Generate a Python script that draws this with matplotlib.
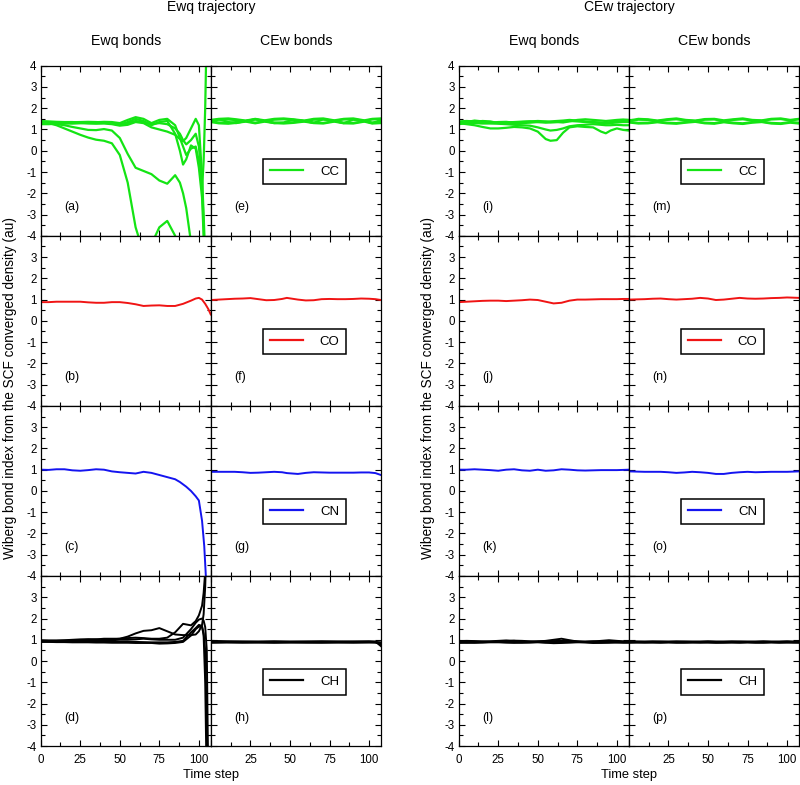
import matplotlib
matplotlib.use("Agg")
import matplotlib.pyplot as plt
from matplotlib.ticker import MultipleLocator

plt.rcParams['font.family'] = ['Liberation Sans', 'DejaVu Sans']

# ---------------- data ----------------
grid_titles = ["Ewq trajectory", "CEw trajectory"]
col_titles = ["Ewq bonds", "CEw bonds"]
bond_names = ["CC", "CO", "CN", "CH"]
panel_letters = [["a", "b", "c", "d"], ["e", "f", "g", "h"],
                 ["i", "j", "k", "l"], ["m", "n", "o", "p"]]
x_ticks = [0, 25, 50, 75, 100]
y_ticks = [-4, -3, -2, -1, 0, 1, 2, 3, 4]

# (a) Ewq trajectory, Ewq bonds, CC
t_a = [0, 5, 10, 15, 20, 25, 30, 35, 40, 45, 50, 55, 60, 65, 70, 75, 80, 85, 88, 90, 92, 95, 98, 100, 102, 103, 104, 105]
a1 = [1.35, 1.30, 1.20, 1.05, 0.90, 0.75, 0.62, 0.52, 0.47, 0.35, -0.20, -1.50, -3.60, -4.80, -4.40, -3.60, -3.30, -4.00, -4.60, -5.00, -5.50, -6.0, -7.0, -8.0, -9.0, -9.0, -9.0, -9.0]
a2 = [1.30, 1.28, 1.25, 1.20, 1.12, 1.05, 0.98, 0.97, 1.02, 0.95, 0.60, -0.15, -0.80, -0.95, -1.10, -1.40, -1.55, -1.15, -1.50, -2.00, -2.70, -4.30, -6.0, -7.0, -8.0, -8.0, -8.0, -8.0]
a3 = [1.25, 1.25, 1.27, 1.28, 1.30, 1.30, 1.28, 1.27, 1.28, 1.25, 1.18, 1.22, 1.35, 1.30, 1.10, 1.00, 0.90, 0.75, 0.55, 0.45, 0.60, 1.05, 1.50, 1.20, -1.20, -3.0, -5.0, -8.0]
a4 = [1.40, 1.38, 1.36, 1.35, 1.35, 1.33, 1.32, 1.34, 1.36, 1.35, 1.30, 1.45, 1.58, 1.50, 1.30, 1.45, 1.50, 1.20, 0.60, 0.20, -0.20, 0.10, 0.20, -0.50, -1.80, -0.50, 2.0, 6.0]
a5 = [1.30, 1.32, 1.33, 1.30, 1.28, 1.30, 1.32, 1.33, 1.32, 1.28, 1.22, 1.35, 1.50, 1.40, 1.20, 1.35, 1.40, 0.80, 0.00, -0.65, -0.40, 0.25, 0.10, -0.80, -2.20, -4.0, -6.0, -8.0]
a6 = [1.35, 1.34, 1.32, 1.33, 1.34, 1.35, 1.36, 1.35, 1.33, 1.30, 1.25, 1.30, 1.40, 1.35, 1.25, 1.30, 1.25, 1.05, 0.80, 0.50, 0.30, 0.50, 0.80, 0.20, -1.50, -3.5, -6.0, -8.0]

# (b) CO
t_b = [0, 5, 10, 15, 20, 25, 30, 35, 40, 45, 50, 55, 60, 65, 70, 75, 80, 85, 90, 95, 98, 100, 102, 104, 106, 107.5]
b1 = [0.88, 0.88, 0.90, 0.90, 0.90, 0.90, 0.87, 0.85, 0.85, 0.88, 0.88, 0.84, 0.78, 0.70, 0.72, 0.73, 0.70, 0.70, 0.80, 0.95, 1.05, 1.08, 1.00, 0.80, 0.55, 0.30]

# (c) CN
t_c = [0, 5, 10, 15, 20, 25, 30, 35, 40, 45, 50, 55, 60, 65, 70, 75, 80, 85, 88, 92, 95, 98, 100, 102, 103.4, 104.4, 105]
c1 = [1.00, 0.99, 1.02, 1.02, 0.97, 0.95, 0.98, 1.02, 1.00, 0.92, 0.88, 0.85, 0.82, 0.90, 0.85, 0.75, 0.65, 0.55, 0.42, 0.20, 0.00, -0.25, -0.45, -1.40, -2.60, -4.00, -5.00]

# (d) CH
t_d = [0, 5, 10, 15, 20, 25, 30, 35, 40, 45, 50, 55, 60, 65, 70, 75, 80, 85, 90, 95, 98, 100, 102, 103, 104, 105, 106]
d1 = [0.95, 0.95, 0.95, 0.96, 0.97, 0.98, 1.00, 1.02, 1.00, 1.02, 1.05, 1.15, 1.30, 1.42, 1.45, 1.55, 1.40, 1.25, 1.22, 1.22, 1.25, 1.40, 1.70, 2.20, 3.50, 6.0, 8.0]
d2 = [0.98, 0.97, 0.97, 0.98, 1.00, 1.02, 1.03, 1.02, 1.05, 1.05, 1.05, 1.08, 1.10, 1.08, 1.05, 1.05, 1.10, 1.35, 1.75, 1.68, 1.88, 2.15, 2.60, 3.20, 4.20, 6.0, 8.0]
d3 = [0.92, 0.92, 0.93, 0.93, 0.94, 0.95, 0.95, 0.96, 0.97, 0.98, 1.00, 1.00, 1.02, 1.05, 1.02, 1.00, 1.00, 1.00, 1.10, 1.50, 1.80, 1.95, 2.00, 1.90, 1.60, 0.50, -6.0]
d4 = [0.90, 0.90, 0.89, 0.89, 0.88, 0.88, 0.88, 0.87, 0.87, 0.86, 0.86, 0.86, 0.85, 0.85, 0.85, 0.82, 0.83, 0.85, 0.90, 1.20, 1.50, 1.62, 1.60, 1.30, 0.50, -3.0, -8.0]
d5 = [0.93, 0.92, 0.91, 0.90, 0.90, 0.90, 0.90, 0.90, 0.90, 0.90, 0.90, 0.90, 0.90, 0.89, 0.88, 0.88, 0.88, 0.90, 0.95, 1.35, 1.55, 1.70, 1.65, 1.20, -1.0, -6.0, -8.0]

# (e) Ewq trajectory, CEw bonds, CC
t_e = [0, 5, 11, 16, 22, 28, 34, 40, 46, 52, 59, 65, 71, 78, 84, 90, 97, 102, 107.5]
e1 = [1.45, 1.50, 1.52, 1.48, 1.42, 1.50, 1.43, 1.50, 1.52, 1.48, 1.42, 1.50, 1.52, 1.43, 1.50, 1.52, 1.43, 1.50, 1.52]
e2 = [1.42, 1.46, 1.47, 1.44, 1.40, 1.47, 1.41, 1.46, 1.48, 1.45, 1.40, 1.46, 1.47, 1.41, 1.47, 1.48, 1.41, 1.47, 1.49]
e3 = [1.38, 1.33, 1.31, 1.35, 1.39, 1.32, 1.39, 1.33, 1.31, 1.34, 1.39, 1.33, 1.31, 1.39, 1.32, 1.31, 1.39, 1.33, 1.35]
e4 = [1.35, 1.29, 1.27, 1.31, 1.37, 1.29, 1.37, 1.30, 1.28, 1.31, 1.37, 1.30, 1.28, 1.37, 1.29, 1.28, 1.37, 1.28, 1.30]
e5 = [1.40, 1.48, 1.35, 1.30, 1.40, 1.48, 1.40, 1.30, 1.33, 1.46, 1.40, 1.31, 1.48, 1.40, 1.30, 1.46, 1.40, 1.30, 1.45]

# (f), (g) Ewq trajectory, CEw bonds
t_fg = [0, 5, 10, 15, 20, 25, 30, 35, 40, 45, 48, 55, 60, 65, 70, 75, 80, 85, 90, 95, 100, 104, 107.5]
f1 = [0.98, 1.00, 1.02, 1.04, 1.05, 1.07, 1.02, 0.97, 0.98, 1.03, 1.08, 1.00, 0.96, 0.97, 1.02, 1.03, 1.02, 1.02, 1.03, 1.05, 1.04, 1.02, 0.98]
g1 = [0.90, 0.90, 0.90, 0.90, 0.88, 0.85, 0.86, 0.88, 0.90, 0.88, 0.84, 0.80, 0.85, 0.88, 0.87, 0.86, 0.86, 0.86, 0.86, 0.87, 0.87, 0.84, 0.75]

# (h) CH
t_h = [0, 10, 20, 30, 40, 50, 60, 70, 80, 90, 100, 104, 107.5]
h1 = [0.92, 0.91, 0.90, 0.90, 0.91, 0.90, 0.90, 0.91, 0.91, 0.90, 0.91, 0.90, 0.88]
h2 = [0.88, 0.89, 0.89, 0.88, 0.88, 0.88, 0.89, 0.88, 0.88, 0.89, 0.89, 0.88, 0.80]
h3 = [0.95, 0.93, 0.92, 0.92, 0.93, 0.92, 0.92, 0.93, 0.92, 0.92, 0.93, 0.92, 0.70]
h4 = [0.86, 0.87, 0.86, 0.87, 0.86, 0.87, 0.86, 0.86, 0.87, 0.86, 0.87, 0.87, 0.85]
h5 = [0.90, 0.90, 0.91, 0.90, 0.89, 0.90, 0.91, 0.90, 0.90, 0.91, 0.90, 0.89, 0.78]

# (i) CEw trajectory, Ewq bonds, CC
t_i = [0, 5, 10, 15, 20, 25, 30, 35, 40, 45, 50, 55, 58, 62, 66, 70, 75, 80, 85, 90, 93, 96, 100, 104, 107.5]
i1 = [1.30, 1.25, 1.20, 1.12, 1.05, 1.05, 1.08, 1.12, 1.10, 1.05, 0.90, 0.55, 0.47, 0.50, 0.85, 1.10, 1.15, 1.12, 1.10, 0.90, 0.82, 0.95, 1.05, 0.98, 0.95]
i2 = [1.35, 1.32, 1.30, 1.28, 1.28, 1.27, 1.25, 1.22, 1.20, 1.18, 1.10, 1.00, 0.95, 0.98, 1.05, 1.15, 1.20, 1.22, 1.25, 1.22, 1.20, 1.20, 1.22, 1.20, 1.20]
i3 = [1.38, 1.40, 1.38, 1.35, 1.33, 1.32, 1.33, 1.35, 1.37, 1.38, 1.35, 1.32, 1.33, 1.35, 1.38, 1.40, 1.38, 1.35, 1.33, 1.30, 1.28, 1.30, 1.33, 1.35, 1.35]
i4 = [1.25, 1.30, 1.35, 1.40, 1.38, 1.30, 1.28, 1.30, 1.35, 1.38, 1.40, 1.38, 1.35, 1.35, 1.33, 1.38, 1.45, 1.48, 1.45, 1.42, 1.40, 1.42, 1.45, 1.47, 1.45]
i5 = [1.33, 1.35, 1.42, 1.38, 1.32, 1.35, 1.36, 1.32, 1.30, 1.32, 1.35, 1.36, 1.38, 1.40, 1.42, 1.45, 1.42, 1.38, 1.35, 1.33, 1.32, 1.35, 1.38, 1.40, 1.43]

# (j), (k), (l), (n), (o), (p)
t_r = [0, 5, 10, 15, 20, 25, 30, 35, 40, 45, 50, 55, 60, 65, 70, 75, 80, 85, 90, 95, 100, 104, 107.5]
j1 = [0.88, 0.90, 0.92, 0.94, 0.95, 0.95, 0.93, 0.95, 0.97, 1.00, 0.98, 0.90, 0.82, 0.85, 0.95, 1.00, 1.00, 1.01, 1.02, 1.02, 1.02, 1.03, 1.03]
k1 = [1.00, 1.00, 1.02, 1.00, 0.98, 0.95, 1.00, 1.02, 0.97, 0.95, 1.00, 0.95, 0.97, 1.02, 1.00, 0.97, 0.96, 0.97, 0.98, 0.98, 0.98, 0.99, 1.00]
l1 = [0.95, 0.93, 0.92, 0.92, 0.93, 0.95, 0.97, 0.95, 0.92, 0.90, 0.92, 0.95, 1.00, 1.05, 0.98, 0.92, 0.90, 0.92, 0.95, 0.98, 0.95, 0.93, 0.92]
l2 = [0.90, 0.90, 0.88, 0.88, 0.90, 0.92, 0.92, 0.90, 0.88, 0.88, 0.90, 0.92, 0.94, 0.95, 0.92, 0.90, 0.88, 0.85, 0.86, 0.88, 0.90, 0.90, 0.90]
l3 = [0.88, 0.86, 0.86, 0.87, 0.88, 0.88, 0.87, 0.86, 0.86, 0.87, 0.88, 0.86, 0.84, 0.85, 0.87, 0.88, 0.88, 0.87, 0.86, 0.86, 0.87, 0.88, 0.88]
l4 = [0.93, 0.95, 0.94, 0.92, 0.90, 0.90, 0.93, 0.96, 0.95, 0.93, 0.90, 0.88, 0.90, 0.93, 0.95, 0.93, 0.90, 0.90, 0.92, 0.93, 0.92, 0.90, 0.90]
l5 = [0.85, 0.87, 0.88, 0.90, 0.91, 0.90, 0.88, 0.87, 0.89, 0.91, 0.93, 0.93, 0.90, 0.88, 0.88, 0.90, 0.92, 0.93, 0.91, 0.90, 0.88, 0.86, 0.86]
n1 = [1.00, 1.01, 1.02, 1.04, 1.05, 1.02, 1.00, 1.02, 1.04, 1.08, 1.05, 0.98, 1.00, 1.04, 1.08, 1.05, 1.04, 1.05, 1.07, 1.08, 1.10, 1.09, 1.08]
o1 = [0.92, 0.91, 0.90, 0.90, 0.90, 0.88, 0.85, 0.87, 0.90, 0.88, 0.85, 0.80, 0.80, 0.85, 0.88, 0.90, 0.88, 0.89, 0.90, 0.90, 0.90, 0.91, 0.92]
p1 = [0.91, 0.91, 0.90, 0.90, 0.91, 0.90, 0.90, 0.91, 0.90, 0.90, 0.91, 0.90, 0.90, 0.90, 0.91, 0.90, 0.90, 0.91, 0.90, 0.90, 0.91, 0.90, 0.90]
p2 = [0.88, 0.88, 0.89, 0.88, 0.88, 0.89, 0.88, 0.88, 0.88, 0.89, 0.88, 0.87, 0.88, 0.88, 0.88, 0.89, 0.88, 0.88, 0.89, 0.88, 0.88, 0.89, 0.88]
p3 = [0.93, 0.92, 0.92, 0.93, 0.92, 0.92, 0.93, 0.92, 0.92, 0.92, 0.93, 0.92, 0.92, 0.93, 0.92, 0.92, 0.92, 0.93, 0.92, 0.92, 0.93, 0.92, 0.92]
p4 = [0.86, 0.87, 0.86, 0.87, 0.86, 0.87, 0.86, 0.86, 0.87, 0.86, 0.87, 0.86, 0.86, 0.87, 0.86, 0.87, 0.86, 0.86, 0.87, 0.86, 0.87, 0.86, 0.86]

# (m) CEw trajectory, CEw bonds, CC
t_m = [0, 6, 12, 18, 24, 30, 36, 42, 48, 54, 60, 66, 72, 78, 84, 90, 96, 102, 107.5]
m1 = [1.42, 1.50, 1.48, 1.42, 1.48, 1.52, 1.45, 1.42, 1.49, 1.50, 1.43, 1.48, 1.52, 1.45, 1.43, 1.50, 1.52, 1.45, 1.50]
m2 = [1.40, 1.46, 1.45, 1.40, 1.45, 1.48, 1.42, 1.40, 1.46, 1.47, 1.40, 1.45, 1.48, 1.42, 1.41, 1.47, 1.49, 1.42, 1.48]
m3 = [1.36, 1.31, 1.32, 1.37, 1.32, 1.30, 1.35, 1.38, 1.32, 1.30, 1.37, 1.32, 1.29, 1.35, 1.37, 1.31, 1.29, 1.35, 1.32]
m4 = [1.33, 1.28, 1.29, 1.34, 1.29, 1.27, 1.32, 1.36, 1.29, 1.27, 1.34, 1.29, 1.26, 1.32, 1.35, 1.28, 1.26, 1.32, 1.28]

bond_colors = ["#14e414", "#f01414", "#1414f0", "#000000"]

# panels[grid][col][row] = (t, [series...])
panels = [
    [
        [(t_a, [a1, a2, a3, a4, a5, a6]), (t_b, [b1]), (t_c, [c1]), (t_d, [d1, d2, d3, d4, d5])],
        [(t_e, [e1, e2, e3, e4, e5]), (t_fg, [f1]), (t_fg, [g1]), (t_h, [h1, h2, h3, h4, h5])],
    ],
    [
        [(t_i, [i1, i2, i3, i4, i5]), (t_r, [j1]), (t_r, [k1]), (t_r, [l1, l2, l3, l4, l5])],
        [(t_m, [m1, m2, m3, m4]), (t_r, [n1]), (t_r, [o1]), (t_r, [p1, p2, p3, p4])],
    ],
]

# ---------------- layout ----------------
W, H = 800, 785
fig = plt.figure(figsize=(W / 100, H / 100), dpi=100)
grid_left = [40.7, 458.7]
col_w = 170.2
top_px = 65.7
row_h = 170.1
XMAX = 107.6

for g in range(2):
    for c in range(2):
        x0 = grid_left[g] + c * col_w
        for r in range(4):
            y_top = top_px + r * row_h
            ax = fig.add_axes([x0 / W, 1 - (y_top + row_h) / H, col_w / W, row_h / H])
            t, series = panels[g][c][r]
            lw = 1.6 if r == 0 else 1.4
            for s in series:
                ax.plot(t, s, color=bond_colors[r], lw=lw, solid_joinstyle='round')
            ax.set_xlim(0, XMAX)
            ax.set_ylim(-4, 4)
            ax.xaxis.set_minor_locator(MultipleLocator(12.5))
            ax.yaxis.set_minor_locator(MultipleLocator(0.5))
            ax.set_xticks(x_ticks)
            ax.set_yticks(y_ticks)
            ax.tick_params(which='both', direction='in', top=True, right=True,
                           width=0.8, labelsize=8.3)
            ax.tick_params(which='major', length=4.5)
            ax.tick_params(which='minor', length=3)
            ax.tick_params(axis='y', pad=3)
            ax.tick_params(axis='x', pad=6)
            for sp in ax.spines.values():
                sp.set_linewidth(0.9)
            if c == 0:
                labs = [str(v) for v in y_ticks]
                if r > 0:
                    labs[-1] = ""
                ax.set_yticklabels(labs)
            else:
                ax.set_yticklabels([])
            if r == 3:
                xl = [str(v) for v in x_ticks]
                if c == 1:
                    xl[0] = ""
                ax.set_xticklabels(xl)
            else:
                ax.set_xticklabels([])
            ax.text(0.14, 0.168, "(" + panel_letters[g * 2 + c][r] + ")",
                    transform=ax.transAxes, ha='left', va='center', fontsize=8.8)
            if c == 1:
                leg = ax.legend([ax.lines[0]], [bond_names[r]], loc='center',
                                bbox_to_anchor=(0.55, 0.378), fontsize=9.5,
                                handlelength=2.5, handletextpad=1.3,
                                borderpad=0.5, fancybox=False, framealpha=1)
                leg.legend_handles[0].set_linewidth(1.6)
                fr = leg.get_frame()
                fr.set_edgecolor('black')
                fr.set_linewidth(1.1)
        fig.text((x0 + col_w / 2) / W, 1 - 40.7 / H, col_titles[c],
                 ha='center', va='center', fontsize=10.2)
    gx = (grid_left[g] + col_w) / W
    fig.text(gx, 1 - 7 / H, grid_titles[g], ha='center', va='center', fontsize=10)
    fig.text(gx, 1 - 775 / H, "Time step", ha='center', va='center', fontsize=9.3)
    fig.text((grid_left[g] - 31) / W, 1 - 388 / H,
             "Wiberg bond index from the SCF converged density (au)",
             rotation=90, ha='center', va='center', fontsize=9.8)

fig.savefig("out.png", dpi=100)
